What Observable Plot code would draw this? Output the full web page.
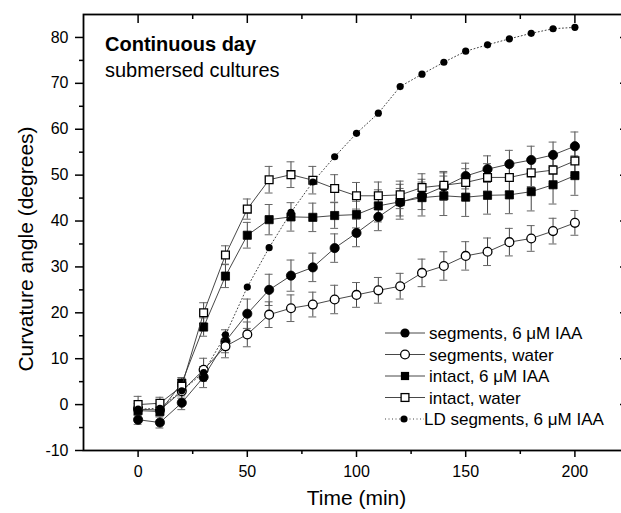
<!DOCTYPE html>
<html>
<head>
<meta charset="utf-8">
<script src="https://cdn.jsdelivr.net/npm/d3@7"></script>
<script src="https://cdn.jsdelivr.net/npm/@observablehq/plot@0.6"></script>
<style>
  html, body { margin: 0; padding: 0; background: white; overflow: hidden; }
  #wrap { position: relative; width: 621px; height: 513px; overflow: hidden; }
  #wrap > svg { max-width: none !important; width: 640px !important; height: 513px !important; display: block; }
  #legend { position: absolute; left: 0; top: 0; pointer-events: none; }
</style>
</head>
<body>
<div id="wrap"></div>
<script>
// ---- data ----
const time = [0,10,20,30,40,50,60,70,80,90,100,110,120,130,140,150,160,170,180,190,200];

const segIAA      = [-3.3,-3.9,0.4,6.0,13.8,19.8,25.0,28.1,29.9,34.1,37.4,40.9,44.1,45.5,47.5,49.8,51.3,52.4,53.3,54.4,56.3];
const segIAAErr   = [1.0,1.2,1.5,2.3,2.5,3.2,3.4,3.4,3.1,3.1,3.0,3.0,3.0,3.0,3.0,2.8,2.9,3.0,3.0,2.8,3.1];

const segWater    = [-1.0,-1.2,2.9,7.6,12.7,15.3,19.6,21.0,21.8,22.9,23.9,24.9,25.8,28.7,30.2,32.4,33.3,35.4,36.2,37.8,39.6];
const segWaterErr = [1.2,1.2,1.5,2.5,2.5,2.7,2.8,2.9,2.7,3.1,2.7,2.8,2.8,3.0,3.1,3.1,3.0,3.0,2.8,2.8,2.7];

const intIAA      = [-1.3,-1.5,4.7,16.9,28.0,36.9,40.3,40.9,40.8,41.2,41.4,43.3,44.2,45.1,45.5,45.2,45.6,45.7,46.4,47.9,49.9];
const intIAAErr   = [1.0,1.0,1.2,2.0,2.5,2.8,3.3,3.1,3.1,2.8,2.9,3.5,3.8,4.0,4.3,4.2,4.1,4.1,4.2,4.2,4.3];

const intWater    = [0.0,0.3,4.0,20.0,32.6,42.6,49.0,50.1,48.9,47.1,45.5,45.5,45.7,47.3,47.8,48.4,49.5,49.5,50.5,51.1,53.1];
const intWaterErr = [1.8,1.3,1.5,2.2,2.0,2.2,2.9,2.8,3.0,3.0,2.9,3.0,3.0,3.0,3.0,3.0,3.0,3.0,3.0,3.0,3.2];

const ldSegIAA    = [-1.0,-0.8,3.0,7.0,15.2,25.6,34.2,41.9,48.5,54.0,59.1,63.5,69.3,72.0,74.6,77.0,78.4,79.7,80.9,81.9,82.2];

const seriesNames = ["segments, 6 \u03BCM IAA","segments, water","intact, 6 \u03BCM IAA","intact, water","LD segments, 6 \u03BCM IAA"];
const xMajor = [0,50,100,150,200];
const xMinor = [25,75,125,175];
const yMajor = [-10,0,10,20,30,40,50,60,70,80];
const yMinor = [-5,5,15,25,35,45,55,65,75];
const titleLines = ["Continuous day","submersed cultures"];
const xLabel = "Time (min)";
const yLabel = "Curvature angle (degrees)";

// ---- build tables ----
const mk = (vals, errs) => time.map((t,i) => ({t, v: vals[i], e: errs ? errs[i] : 0}));
const dSegIAA = mk(segIAA, segIAAErr);
const dSegWater = mk(segWater, segWaterErr);
const dIntIAA = mk(intIAA, intIAAErr);
const dIntWater = mk(intWater, intWaterErr);
const dLD = mk(ldSegIAA);
const withErr = [dSegIAA, dSegWater, dIntIAA, dIntWater];

const W = 640, H = 513, ML = 83, MR = 11, MT = 14, MB = 63;
const PW = W - ML - MR, PH = H - MT - MB;
const FONT = "'Liberation Sans', Arial, Helvetica, sans-serif";
const capHalf = 1.8;

const errMarks = withErr.flatMap(d => [
  Plot.ruleX(d, {x: "t", y1: r => r.v - r.e, y2: r => r.v + r.e, stroke: "#444", strokeWidth: 1}),
  Plot.ruleY(d, {y: r => r.v + r.e, x1: r => r.t - capHalf, x2: r => r.t + capHalf, stroke: "#666", strokeWidth: 1}),
  Plot.ruleY(d, {y: r => r.v - r.e, x1: r => r.t - capHalf, x2: r => r.t + capHalf, stroke: "#666", strokeWidth: 1})
]);

const lineStyle = {x: "t", y: "v", stroke: "#333", strokeWidth: 0.9};

const chart = Plot.plot({
  width: W, height: H,
  marginLeft: ML, marginRight: MR, marginTop: MT, marginBottom: MB,
  x: {domain: [-25, 225]},
  y: {domain: [-10, 85]},
  style: {fontFamily: FONT, color: "black", background: "white", overflow: "visible"},
  marks: [
    // axes
    Plot.axisX({ticks: xMajor, tickSize: 7, tickPadding: 8.5, fontSize: 16, label: null, tickFormat: d => String(d), strokeWidth: 1.5}),
    Plot.axisX({ticks: xMinor, tickSize: 4, label: null, tickFormat: () => "", strokeWidth: 1.5}),
    Plot.axisY({ticks: yMajor, tickSize: 8, tickPadding: 7, fontSize: 16, label: null, tickFormat: d => String(d), strokeWidth: 1.5}),
    Plot.axisY({ticks: yMinor, tickSize: 4, label: null, tickFormat: () => "", strokeWidth: 1.5}),
    // inward ticks top and right
    Plot.tickX(xMajor, {x: d => d, insetBottom: PH - 9, strokeWidth: 1.5}),
    Plot.tickX(xMinor, {x: d => d, insetBottom: PH - 5, strokeWidth: 1.5}),
    Plot.tickY(yMajor.filter(d => d > -10), {y: d => d, insetLeft: PW - 9, strokeWidth: 1.5}),
    Plot.tickY(yMinor, {y: d => d, insetLeft: PW - 5, strokeWidth: 1.5}),
    Plot.frame({strokeWidth: 1.8}),
    // error bars
    ...errMarks,
    // series
    Plot.line(dSegIAA, lineStyle),
    Plot.dot(dSegIAA, {x: "t", y: "v", r: 4.6, fill: "black", stroke: "black", strokeWidth: 0.8}),
    Plot.line(dSegWater, lineStyle),
    Plot.dot(dSegWater, {x: "t", y: "v", r: 4.4, fill: "white", stroke: "black", strokeWidth: 1.3}),
    Plot.line(dIntIAA, lineStyle),
    Plot.dot(dIntIAA, {x: "t", y: "v", r: 4.6, symbol: "square", fill: "black", stroke: "black", strokeWidth: 0.8}),
    Plot.line(dIntWater, lineStyle),
    Plot.dot(dIntWater, {x: "t", y: "v", r: 4.4, symbol: "square", fill: "white", stroke: "black", strokeWidth: 1.3}),
    Plot.line(dLD, {x: "t", y: "v", stroke: "#444", strokeWidth: 1, strokeDasharray: "1,2.5"}),
    Plot.dot(dLD, {x: "t", y: "v", r: 3.6, fill: "black", stroke: "none"}),
    // texts
    Plot.text([titleLines[0]], {frameAnchor: "top-left", dx: 21.5, dy: 22.6, fontSize: 20, fontWeight: "bold", textAnchor: "start"}),
    Plot.text([titleLines[1]], {frameAnchor: "top-left", dx: 21.5, dy: 48.6, fontSize: 20, textAnchor: "start"}),
    Plot.text([xLabel], {frameAnchor: "bottom", dy: 54.3, fontSize: 21, textAnchor: "middle"}),
    Plot.text([yLabel], {frameAnchor: "left", dx: -57.7, dy: 16.5, fontSize: 21, rotate: -90, textAnchor: "middle"})
  ]
});

const wrap = document.getElementById("wrap");
wrap.appendChild(chart);

// ---- legend overlay ----
const leg = d3.select(wrap).append("svg")
  .attr("id", "legend").attr("width", 621).attr("height", 513)
  .style("font-family", FONT);
const rowY0 = 333, rowStep = 21.5, lx0 = 385, lx1 = 425, mx = 405, tx = 429;
const kinds = ["fcircle","ocircle","fsquare","osquare","ld"];
seriesNames.forEach((name, i) => {
  const y = rowY0 + i * rowStep;
  const g = leg.append("g");
  const isLD = kinds[i] === "ld";
  g.append("line").attr("x1", lx0).attr("x2", isLD ? lx1 - 1 : lx1).attr("y1", y).attr("y2", y)
    .attr("stroke", isLD ? "#444" : "#333").attr("stroke-width", isLD ? 1 : 0.9)
    .attr("stroke-dasharray", isLD ? "1,2.5" : null);
  const k = kinds[i];
  if (k === "fcircle") g.append("circle").attr("cx", mx).attr("cy", y).attr("r", 4.6).attr("fill", "black");
  if (k === "ocircle") g.append("circle").attr("cx", mx).attr("cy", y).attr("r", 4.4).attr("fill", "white").attr("stroke", "black").attr("stroke-width", 1.3);
  if (k === "fsquare") g.append("rect").attr("x", mx - 4.1).attr("y", y - 4.1).attr("width", 8.2).attr("height", 8.2).attr("fill", "black");
  if (k === "osquare") g.append("rect").attr("x", mx - 3.9).attr("y", y - 3.9).attr("width", 7.8).attr("height", 7.8).attr("fill", "white").attr("stroke", "black").attr("stroke-width", 1.3);
  if (k === "ld") g.append("circle").attr("cx", mx - 1).attr("cy", y).attr("r", 3.6).attr("fill", "black");
  g.append("text").attr("x", isLD ? tx - 5 : tx).attr("y", y + 6).attr("font-size", 17).attr("fill", "black").text(name);
});
</script>
</body>
</html>
